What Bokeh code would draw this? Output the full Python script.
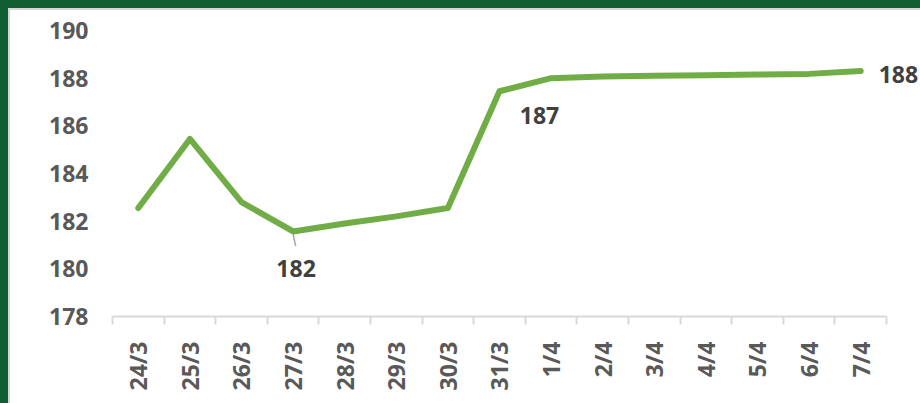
from bokeh.plotting import figure
from bokeh.models import (Range1d, FixedTicker, CustomJSTickFormatter, ColumnDataSource,
                          LabelSet, GlobalInlineStyleSheet)
from bokeh.core.properties import value
from bokeh.embed import file_html
from bokeh.resources import INLINE
import math

# ---- data ----
dates = ["24/3", "25/3", "26/3", "27/3", "28/3", "29/3", "30/3",
         "31/3", "1/4", "2/4", "3/4", "4/4", "5/4", "6/4", "7/4"]
values = [182.55, 185.45, 182.8, 181.57, 181.9, 182.2, 182.55,
          187.45, 188.0, 188.07, 188.1, 188.12, 188.15, 188.18, 188.3]
y_ticks = [178, 180, 182, 184, 186, 188, 190]
label_idx = [3, 7, 14]

n = len(dates)
xs = [i + 0.5 for i in range(n)]

GREEN = "#70AD47"
TICK_GRAY = "#595959"
LABEL_DARK = "#404040"
FONT = "Open Sans"

p = figure(width=910, height=393, output_backend="svg", toolbar_location=None,
           x_range=Range1d(0, n + 0.66), y_range=Range1d(y_ticks[0], y_ticks[-1]),
           min_border_left=102, min_border_right=0, min_border_top=20,
           min_border_bottom=87)
p.outline_line_color = None
p.background_fill_color = "white"
p.border_fill_color = "white"
p.xgrid.visible = False
p.ygrid.visible = False
p.styles = {"background-color": "white"}

# leader line for the lowest label
p.segment(x0=[xs[3]], y0=[values[3] - 0.12], x1=[xs[3] + 0.05], y1=[values[3] - 0.62],
          line_color="#A6A6A6", line_width=1.5)

p.line(xs, values, line_color=GREEN, line_width=6, line_cap="round", line_join="round")

# y axis
ya = p.yaxis[0]
ya.ticker = FixedTicker(ticks=y_ticks)
ya.axis_line_color = None
ya.major_tick_line_color = None
ya.minor_tick_line_color = None
ya.major_tick_out = 0
ya.major_tick_in = 0
ya.major_label_standoff = 24
ya.major_label_text_font = FONT
ya.major_label_text_font_style = "bold"
ya.major_label_text_font_size = "23px"
ya.major_label_text_color = TICK_GRAY

# x axis: labels at category centres, tick marks at boundaries
xa = p.xaxis[0]
xa.bounds = (0, n)
xa.ticker = FixedTicker(ticks=xs, minor_ticks=list(range(n + 1)))
xa.formatter = CustomJSTickFormatter(args=dict(cats=dates),
                                     code="return cats[Math.floor(tick)] || '';")
xa.axis_line_color = "#D9D9D9"
xa.axis_line_width = 2
xa.major_tick_line_color = None
xa.major_tick_out = 0
xa.major_tick_in = 0
xa.minor_tick_line_color = "#D9D9D9"
xa.minor_tick_line_width = 2
xa.minor_tick_out = 8
xa.minor_tick_in = 0
xa.major_label_orientation = math.pi / 2
xa.major_label_standoff = 17
xa.major_label_text_font = FONT
xa.major_label_text_font_style = "bold"
xa.major_label_text_font_size = "23px"
xa.major_label_text_color = TICK_GRAY

# data labels
src = ColumnDataSource(dict(
    x=[xs[i] for i in label_idx],
    y=[values[i] for i in label_idx],
    text=[str(round(values[i])) for i in label_idx],
    xo=[3, 40, 18],
    yo=[-37, -24, -3],
    al=["center", "center", "left"],
))
ls = LabelSet(source=src, x="x", y="y", text="text", x_offset="xo", y_offset="yo",
              text_align="al", text_baseline="middle",
              text_font=value(FONT), text_font_style="bold", text_font_size="23px",
              text_color=LABEL_DARK)
p.add_layout(ls)

p.stylesheets = [GlobalInlineStyleSheet(css=(
    "html { margin: 0; padding: 0; }"
    "body { margin: 8px 0 0 8px; padding: 0; background: #125E33; overflow: hidden;"
    " border-top: 2px solid #D6D6D6; border-left: 2px solid #D6D6D6; }"))]

open("out.html", "w").write(file_html(p, INLINE))
